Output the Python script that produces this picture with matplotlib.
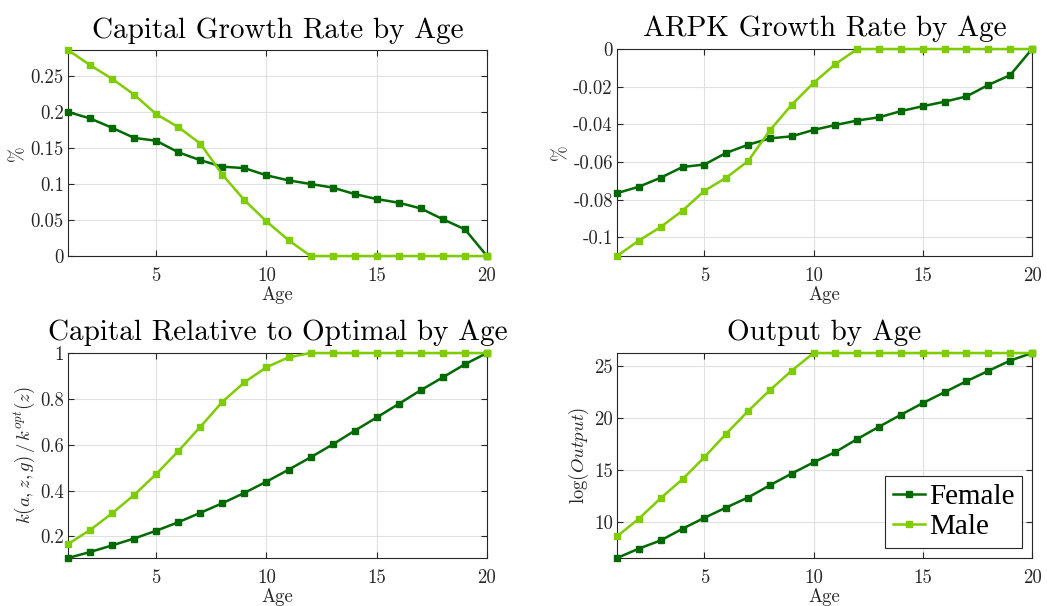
import numpy as np
import matplotlib
matplotlib.use("Agg")
import matplotlib.pyplot as plt
from matplotlib.ticker import FuncFormatter

plt.rcParams['font.family'] = 'serif'
plt.rcParams['font.serif'] = ['cmr10']
plt.rcParams['mathtext.fontset'] = 'cm'
plt.rcParams['axes.unicode_minus'] = False

age = np.arange(1, 21)

cap_growth_female = [0.200, 0.191, 0.178, 0.164, 0.160, 0.144, 0.133, 0.124, 0.122, 0.112,
                     0.105, 0.100, 0.095, 0.086, 0.079, 0.074, 0.066, 0.051, 0.037, 0.0]
cap_growth_male = [0.286, 0.265, 0.246, 0.224, 0.197, 0.179, 0.156, 0.113, 0.0775, 0.048,
                   0.022, 0, 0, 0, 0, 0, 0, 0, 0, 0]

arpk_female = [-0.0766, -0.0732, -0.0684, -0.0627, -0.0614, -0.0552, -0.0509, -0.0475, -0.0464, -0.0430,
               -0.0404, -0.0380, -0.0363, -0.0330, -0.0304, -0.0280, -0.0252, -0.0191, -0.0139, 0.0]
arpk_male = [-0.110, -0.1018, -0.0946, -0.0859, -0.0754, -0.0684, -0.0596, -0.0432, -0.0296, -0.018,
             -0.008, 0, 0, 0, 0, 0, 0, 0, 0, 0]

krel_female = [0.106, 0.132, 0.161, 0.191, 0.225, 0.262, 0.303, 0.345, 0.390, 0.439,
               0.491, 0.545, 0.601, 0.661, 0.719, 0.778, 0.838, 0.894, 0.951, 1.0]
krel_male = [0.167, 0.228, 0.301, 0.381, 0.472, 0.572, 0.678, 0.787, 0.872, 0.938,
             0.981, 1, 1, 1, 1, 1, 1, 1, 1, 1]

output_female = [6.55, 7.45, 8.24, 9.36, 10.41, 11.40, 12.36, 13.54, 14.66, 15.74,
                 16.73, 17.98, 19.16, 20.31, 21.43, 22.48, 23.53, 24.52, 25.51, 26.24]
output_male = [8.63, 10.32, 12.30, 14.12, 16.23, 18.49, 20.66, 22.67, 24.55, 26.24,
               26.24, 26.24, 26.24, 26.24, 26.24, 26.24, 26.24, 26.24, 26.24, 26.24]

c_female = '#006a00'
c_male = '#7fcc00'

panels = [
    ("Capital Growth Rate by Age", "%", cap_growth_female, cap_growth_male,
     (0, 0.286), [0, 0.05, 0.1, 0.15, 0.2, 0.25]),
    ("ARPK Growth Rate by Age", "%", arpk_female, arpk_male,
     (-0.110, 0), [-0.1, -0.08, -0.06, -0.04, -0.02, 0]),
    ("Capital Relative to Optimal by Age", r"$k(a,z,g)\,/\,k^{opt}(z)$", krel_female, krel_male,
     (0.106, 1.0), [0.2, 0.4, 0.6, 0.8, 1]),
    ("Output by Age", r"$\log(Output)$", output_female, output_male,
     (6.55, 26.24), [10, 15, 20, 25]),
]

positions = [
    [68, 50, 487, 256],
    [617, 49, 1032, 256],
    [68, 353, 487, 558],
    [617, 353, 1032, 558],
]

W, H = 1047, 606
fig = plt.figure(figsize=(W / 100, H / 100), dpi=100)

axes_col = '#262626'
for (title, ylab, f, m, ylim, yt), (x0, y0, x1, y1) in zip(panels, positions):
    ax = fig.add_axes([x0 / W, 1 - y1 / H, (x1 - x0) / W, (y1 - y0) / H])
    ax.plot(age, f, '-s', color=c_female, lw=1.8, ms=5, label='Female', clip_on=False, zorder=3)
    ax.plot(age, m, '-s', color=c_male, lw=1.8, ms=5, label='Male', clip_on=False, zorder=3)
    ax.set_xlim(1, 20)
    ax.set_ylim(*ylim)
    ax.set_xticks([5, 10, 15, 20])
    ax.set_yticks(yt)
    ax.yaxis.set_major_formatter(FuncFormatter(lambda v, p: '%g' % round(v, 4)))
    ax.grid(True, color='#e0e0e0', lw=0.8)
    ax.set_axisbelow(True)
    ax.tick_params(direction='in', top=True, right=True, length=4, labelsize=13.5,
                   colors=axes_col)
    ax.tick_params(axis='x', pad=8)
    ax.tick_params(axis='y', pad=3)
    for s in ax.spines.values():
        s.set_color(axes_col)
        s.set_linewidth(0.8)
    ax.set_title(title, fontsize=21, pad=9)
    ax.set_xlabel('Age', fontsize=13.5, color=axes_col, labelpad=1)
    ax.set_ylabel(ylab, fontsize=13.5, color=axes_col, labelpad=2)
    last = ax

leg = last.legend(loc='lower right',
                  prop={'family': ['Liberation Serif', 'Times New Roman', 'DejaVu Serif'], 'size': 21},
                  handlelength=1.1, handletextpad=0.15, borderpad=0.25, labelspacing=0.15,
                  markerscale=0.8, fancybox=False, edgecolor=axes_col, framealpha=1,
                  borderaxespad=0.35)
leg.get_frame().set_linewidth(0.8)

fig.savefig('out.png', dpi=100)
